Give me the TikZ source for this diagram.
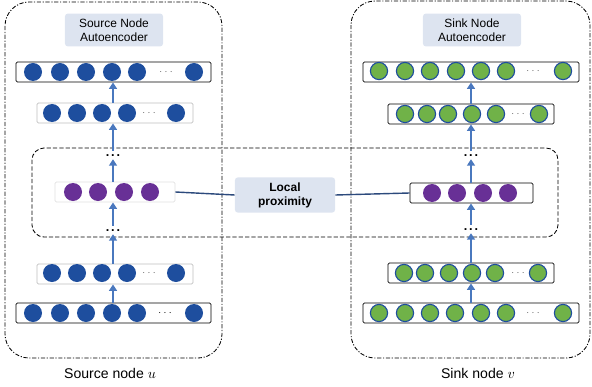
\documentclass[tikz,border=0pt]{standalone}
\usepackage{fontspec}
\setmainfont{Liberation Sans}
\usetikzlibrary{arrows.meta}
\definecolor{unitblue}{RGB}{30,78,158}
\definecolor{unitgreen}{RGB}{112,178,72}
\definecolor{unitpurple}{RGB}{104,48,150}
\definecolor{flowblue}{RGB}{74,120,190}
\definecolor{tagfill}{RGB}{221,228,240}
\definecolor{linkblue}{RGB}{44,74,124}
\tikzset{
  unit/.style={circle,inner sep=0pt,minimum size=0.45cm},
  blueunit/.style={unit,fill=unitblue},
  greenunit/.style={unit,fill=unitgreen,draw=unitblue,line width=0.8pt,minimum size=0.43cm},
  purpleunit/.style={unit,fill=unitpurple},
  layerbox/.style={draw=black,line width=0.6pt,rounded corners=1pt,fill=white,minimum height=0.5cm,inner sep=0pt},
  faintbox/.style={layerbox,draw=black!25},
  tag/.style={fill=tagfill,rounded corners=2pt,align=center,font=\fontsize{8.5}{10}\selectfont,inner sep=2pt},
  flow/.style={-{Triangle[width=5.5pt,length=4.5pt]},flowblue,line width=1.7pt},
  link/.style={linkblue,line width=1pt},
  gap/.style={inner sep=0pt,text=black!60,font=\scriptsize},
  skip/.style={inner sep=2pt,text height=1.6pt,text depth=0pt,font=\small\bfseries},
}
\newcommand{\spreaddots}{.\hspace{1.3pt}.\hspace{1.3pt}.}
\begin{document}
\begin{tikzpicture}[x=0.025cm,y=-0.025cm,line join=round]
\useasboundingbox (0,0) rectangle (592,387);
% outer frames
\draw[line width=0.6pt,dash pattern=on 3pt off 1.2pt on 0.8pt off 1.2pt,rounded corners=0.6cm] (5,2) rectangle (222,358);
\draw[line width=0.6pt,dash pattern=on 3pt off 1.2pt on 0.8pt off 1.2pt,rounded corners=0.6cm] (351,1) rectangle (590,358);
\draw[line width=0.6pt,dash pattern=on 3pt off 1.5pt,rounded corners=0.3cm] (32,148) rectangle (558,237);
% titles
\node[tag,minimum width=2.45cm,minimum height=0.82cm] (srctag) at (114,30) {Source Node\\Autoencoder};
\node[tag,minimum width=2.45cm,minimum height=0.82cm] (snktag) at (472,30) {Sink Node\\Autoencoder};
\node[tag,font=\fontsize{8.5}{10}\selectfont\bfseries,minimum width=2.5cm,minimum height=0.88cm] (prox) at (285,195) {Local\\proximity};
% layers of the source side
\node[layerbox,minimum width=4.875cm] (L1) at (113.5,72) {};
\node[faintbox,minimum width=3.9cm] (L2) at (115,113) {};
\node[faintbox,draw=black!12,minimum width=3.0cm] (LP) at (115,192) {};
\node[faintbox,minimum width=3.9cm] (L3) at (115,274) {};
\node[layerbox,minimum width=4.875cm] (L4) at (113.5,313) {};
\node[skip] (ldA) at (113,155) {\spreaddots};
\node[skip] (ldB) at (113,230) {\spreaddots};
% layers of the sink side
\node[layerbox,minimum width=5.4cm] (R1) at (471,72) {};
\node[layerbox,minimum width=4.15cm] (R2) at (471,114) {};
\node[layerbox,minimum width=3.075cm] (RP) at (471.5,193) {};
\node[layerbox,minimum width=4.15cm] (R3) at (471,273) {};
\node[layerbox,minimum width=5.4cm] (R4) at (471,313) {};
\node[skip] (rdA) at (471,155) {\spreaddots};
\node[skip] (rdB) at (471,229) {\spreaddots};
% flow upwards
\draw[flow] (L4.north -| 113,0) -- (L3.south -| 113,0);
\draw[flow] (L3.north -| 113,0) -- (ldB.south);
\draw[flow] (ldB.north) -- (LP.south -| 113,0);
\draw[flow] (LP.north -| 113,0) -- (ldA.south);
\draw[flow] (ldA.north) -- (L2.south -| 113,0);
\draw[flow] (L2.north -| 113,0) -- (L1.south -| 113,0);
\draw[flow] (R4.north) -- (R3.south);
\draw[flow] (R3.north) -- (rdB.south);
\draw[flow] (rdB.north) -- (RP.south -| 471,0);
\draw[flow] (RP.north -| 471,0) -- (rdA.south);
\draw[flow] (rdA.north) -- (R2.south);
\draw[flow] (R2.north) -- (R1.south);
% units
\foreach \x [count=\i] in {33,60,86,112,137,194} \node[blueunit] (a\i) at (\x,72) {};
\node[gap] (adots) at (166,72) {$\cdots$};
\foreach \x [count=\i] in {52,77,102,127,176} \node[blueunit] (b\i) at (\x,113) {};
\node[gap] (bdots) at (149,113) {$\cdots$};
\foreach \x [count=\i] in {73,98,124,150} \node[purpleunit] (p\i) at (\x,192) {};
\foreach \x [count=\i] in {52,77,102,127,176} \node[blueunit] (c\i) at (\x,273) {};
\node[gap] (cdots) at (149,273) {$\cdots$};
\foreach \x [count=\i] in {33,60,86,112,137,194} \node[blueunit] (d\i) at (\x,313) {};
\node[gap,text=black] (ddots) at (165,313) {$\cdots$};
\foreach \x [count=\i] in {379,405,430,456,481,506,563} \node[greenunit] (e\i) at (\x,71) {};
\node[gap] (edots) at (533,71) {$\cdots$};
\foreach \x [count=\i] in {405,427,448,472,496,539} \node[greenunit] (f\i) at (\x,114) {};
\node[gap] (fdots) at (518,114) {$\cdots$};
\foreach \x [count=\i] in {432,457,483,508} \node[purpleunit] (q\i) at (\x,193) {};
\foreach \x [count=\i] in {404,425,449,472,495,538} \node[greenunit] (g\i) at (\x,273) {};
\node[gap] (gdots) at (518,273) {$\cdots$};
\foreach \x [count=\i] in {379,405,430,455,481,506,563} \node[greenunit] (h\i) at (\x,313) {};
\node[gap] (hdots) at (533,313) {$\cdots$};
% local proximity links
\draw[link] (LP.east) -- (prox.west);
\draw[link] (prox.east) -- (RP.west);
% captions
\node (srccap) at (110,373) {Source node $u$};
\node (snkcap) at (478,373) {Sink node $v$};
\end{tikzpicture}
\end{document}
